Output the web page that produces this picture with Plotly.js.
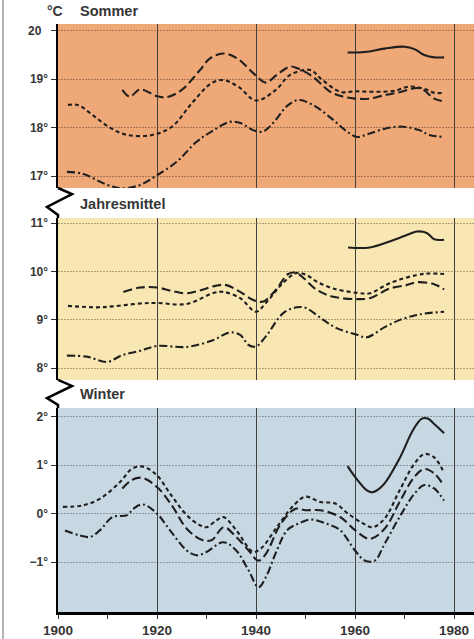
<!DOCTYPE html>
<html>
<head>
<meta charset="utf-8">
<script src="https://cdn.plot.ly/plotly-3.0.1.min.js"></script>
<style>html,body{margin:0;padding:0;background:#fff;}#chart{width:474px;height:639px;}</style>
</head>
<body>
<div id="chart"></div>
<script>
// ---------- Sommer ----------
const somSolidX = [1958.5,1962,1966,1970,1972,1974,1976,1978];
const somSolidY = [19.55,19.56,19.63,19.67,19.62,19.50,19.45,19.45];
const somLongX = [1913,1914.5,1916.6,1920,1922,1925,1928.7,1930.7,1933.4,1936.2,1939.5,1942,1944.2,1946.9,1948.5,1951.5,1955,1957.6,1960,1963,1966,1969,1972.5,1973.8,1976,1978];
const somLongY = [18.78,18.64,18.79,18.65,18.63,18.78,19.19,19.43,19.53,19.43,19.12,18.93,19.09,19.26,19.22,19.05,18.74,18.64,18.60,18.60,18.67,18.73,18.82,18.78,18.60,18.54];
const somShortX = [1902,1904,1907,1910.5,1914,1919,1923,1927,1931,1933.5,1936.5,1940,1944,1946.9,1951,1953,1957,1960,1964,1968,1971,1974,1976,1978];
const somShortY = [18.47,18.47,18.26,18.00,17.85,17.85,18.02,18.50,18.92,18.98,18.84,18.56,18.78,19.09,19.19,19.02,18.74,18.75,18.74,18.76,18.85,18.80,18.72,18.72];
const somDotX = [1901.8,1905,1910,1913,1916.6,1920,1924,1928,1931,1934.7,1937,1939.4,1941.4,1943.4,1946.3,1948.5,1951.5,1955.6,1958.4,1960.4,1963,1966.4,1969.7,1973,1975,1978];
const somDotY = [17.09,17.05,16.82,16.75,16.82,17.02,17.30,17.71,17.92,18.12,18.09,17.95,17.92,18.09,18.45,18.57,18.47,18.16,17.92,17.81,17.88,17.99,18.02,17.95,17.85,17.81];

// ---------- Jahresmittel ----------
const jahSolidX = [1958.6,1963,1967.7,1971,1972.5,1974.5,1976,1978];
const jahSolidY = [10.50,10.50,10.65,10.78,10.83,10.80,10.67,10.66];
const jahLongX = [1913.2,1916.6,1920,1923,1926,1929,1932,1934,1936.8,1939.5,1941.5,1944,1946.5,1948.2,1952.3,1955.6,1960.4,1963,1967,1970.4,1972.5,1976,1978];
const jahLongY = [9.58,9.67,9.67,9.60,9.55,9.62,9.71,9.72,9.58,9.41,9.38,9.62,9.95,9.97,9.62,9.48,9.43,9.45,9.65,9.72,9.78,9.74,9.63];
const jahShortX = [1902,1907.8,1911,1916.6,1920,1926,1931.5,1933.4,1936.8,1940,1942,1945.5,1948.2,1950.2,1952.3,1955.6,1960.4,1963,1967,1972.5,1975,1978];
const jahShortY = [9.29,9.26,9.28,9.34,9.35,9.33,9.56,9.58,9.45,9.17,9.35,9.77,9.97,9.93,9.79,9.65,9.56,9.55,9.76,9.93,9.96,9.95];
const jahDotX = [1901.8,1905.8,1909.9,1913,1916.6,1920,1926,1931.3,1934.7,1936.8,1938.5,1940,1942,1945.5,1948.2,1950,1953.6,1956.3,1960.4,1962.4,1966,1969.1,1972,1974,1978];
const jahDotY = [8.26,8.24,8.13,8.27,8.36,8.46,8.44,8.58,8.74,8.69,8.48,8.45,8.66,9.14,9.26,9.25,9.00,8.83,8.69,8.64,8.85,9.00,9.09,9.13,9.17];

// ---------- Winter ----------
const winSolidX = [1958.5,1960,1962.4,1963.5,1965.7,1969,1971.7,1973.5,1974.8,1975.8,1978];
const winSolidY = [0.98,0.76,0.48,0.44,0.59,1.14,1.72,1.96,1.96,1.87,1.66];
const winLongX = [1913,1915,1917,1920,1923,1926,1929,1931,1933.5,1936,1938.5,1940.5,1942,1945,1948,1950,1953,1957,1960,1963,1966,1969,1972,1974,1976,1978];
const winLongY = [0.52,0.70,0.74,0.55,0.17,-0.31,-0.54,-0.55,-0.28,-0.48,-0.76,-0.97,-0.83,-0.21,0.10,0.07,0.07,-0.07,-0.34,-0.52,-0.31,0.24,0.76,0.92,0.83,0.57];
const winShortX = [1901,1905,1908.5,1912.5,1915,1917.2,1920,1922.6,1926,1928.7,1930,1932,1933.4,1936,1939.4,1941,1944.2,1947.6,1950,1953,1956,1958.6,1961.6,1963.6,1966,1969,1972,1974,1976,1978];
const winShortY = [0.14,0.17,0.31,0.65,0.93,0.97,0.79,0.42,-0.03,-0.24,-0.28,-0.14,-0.07,-0.34,-0.79,-0.72,-0.28,0.17,0.35,0.24,0.21,0.00,-0.20,-0.28,-0.10,0.48,1.03,1.23,1.16,0.84];
const winDotX = [1901.4,1904.4,1906.5,1908.5,1911,1914,1915.2,1917.2,1920,1922.6,1926,1928,1930,1933.4,1936,1938.5,1940.5,1942,1944.2,1946.3,1948.5,1951,1954.3,1957,1960,1962,1964,1966,1969,1972,1974,1976,1978];
const winDotY = [-0.35,-0.45,-0.48,-0.34,-0.07,-0.03,0.10,0.19,0.00,-0.34,-0.76,-0.86,-0.79,-0.59,-0.76,-1.17,-1.52,-1.31,-0.76,-0.34,-0.21,-0.12,-0.21,-0.34,-0.76,-0.97,-0.97,-0.62,-0.07,0.41,0.59,0.52,0.27];

// ---------- tick labels ----------
const somTickVals = [17,18,19,20];
const somTickText = ['17°','18°','19°','20\u2007'];
const jahTickVals = [8,9,10,11];
const jahTickText = ['8°','9°','10°','11°'];
const winTickVals = [-1,0,1,2];
const winTickText = ['\u22121°','0°','1°','2°'];
const panelNames = ['Sommer','Jahresmittel','Winter'];

const INK = '#1f1f1f';
const TXT = '#363636';
const FONT = 'Liberation Sans, Arial, sans-serif';
const dashLong = '9px,4px';
const dashShort = '4px,3px';
const dashDot = '8px,3px,2px,3px';

function tr(x, y, ya, dash) {
  return {x: x, y: y, yaxis: ya, xaxis: 'x', type: 'scatter', mode: 'lines',
    line: {color: INK, width: 2.1, dash: dash, shape: 'spline', smoothing: 1},
    hoverinfo: 'skip', showlegend: false};
}

const data = [
  tr(somSolidX, somSolidY, 'y', 'solid'),
  tr(somLongX, somLongY, 'y', dashLong),
  tr(somShortX, somShortY, 'y', dashShort),
  tr(somDotX, somDotY, 'y', dashDot),
  tr(jahSolidX, jahSolidY, 'y2', 'solid'),
  tr(jahLongX, jahLongY, 'y2', dashLong),
  tr(jahShortX, jahShortY, 'y2', dashShort),
  tr(jahDotX, jahDotY, 'y2', dashDot),
  tr(winSolidX, winSolidY, 'y3', 'solid'),
  tr(winLongX, winLongY, 'y3', dashLong),
  tr(winShortX, winShortY, 'y3', dashShort),
  tr(winDotX, winDotY, 'y3', dashDot)
];

const tickFont = {family: FONT, size: 12, color: TXT, weight: 'bold'};
function yax(domain, range, vals, text, gridcolor) {
  return {domain: domain, range: range, anchor: 'x', tickmode: 'array', tickvals: vals, ticktext: text,
    showline: true, linewidth: 2.5, linecolor: '#000', ticks: 'outside', ticklen: 5, tickwidth: 1,
    tickcolor: '#333', tickfont: tickFont, showgrid: true, gridcolor: gridcolor, gridwidth: 1,
    griddash: '1.5px,1.5px', zeroline: false, fixedrange: true};
}

function title(x, y, text, size) {
  return {xref: 'paper', yref: 'paper', x: x, y: y, xanchor: 'left', yanchor: 'middle', showarrow: false,
    text: text, font: {family: FONT, size: size, color: TXT, weight: 'bold'}};
}

const layout = {
  width: 474, height: 639,
  margin: {l: 58, r: 0, t: 24, b: 27},
  paper_bgcolor: '#ffffff', plot_bgcolor: 'rgba(0,0,0,0)',
  showlegend: false,
  xaxis: {domain: [0, 1], range: [1900, 1984.04], anchor: 'y3', tick0: 1900, dtick: 20,
    showline: true, linewidth: 2.5, linecolor: '#000', ticks: 'outside', ticklen: 4, tickcolor: '#333',
    minor: {dtick: 10, tick0: 1900, ticks: 'outside', ticklen: 4, tickcolor: '#333', showgrid: false},
    tickfont: {family: FONT, size: 13.5, color: TXT, weight: 'bold'},
    showgrid: true, gridcolor: '#404040', gridwidth: 1, zeroline: false, fixedrange: true},
  yaxis: yax([0.7211, 1], [16.757, 20.138], somTickVals, somTickText, 'rgba(120,80,60,0.6)'),
  yaxis2: yax([0.3946, 0.6701], [7.756, 11.11], jahTickVals, jahTickText, 'rgba(120,100,60,0.55)'),
  yaxis3: yax([0, 0.3469], [-2.03, 2.18], winTickVals, winTickText, 'rgba(90,100,110,0.55)'),
  shapes: [
    {type: 'rect', xref: 'paper', yref: 'y domain', x0: 0, x1: 1, y0: 0, y1: 1, fillcolor: '#efa877', line: {width: 0}, layer: 'below'},
    {type: 'rect', xref: 'paper', yref: 'y2 domain', x0: 0, x1: 1, y0: 0, y1: 1, fillcolor: '#f9e7b3', line: {width: 0}, layer: 'below'},
    {type: 'rect', xref: 'paper', yref: 'y3 domain', x0: 0, x1: 1, y0: 0, y1: 1, fillcolor: '#c7d8e3', line: {width: 0}, layer: 'below'},
    {type: 'path', xref: 'paper', yref: 'paper', path: 'M 0 0.7211 L 0.03365 0.7109 L -0.02644 0.6888 L 0 0.6752 L 0 0.6701', line: {color: '#000', width: 2.5}},
    {type: 'path', xref: 'paper', yref: 'paper', path: 'M 0 0.3946 L 0.03365 0.3844 L -0.02644 0.3639 L 0 0.3520 L 0 0.3469', line: {color: '#000', width: 2.5}},
    {type: 'line', xref: 'paper', yref: 'paper', x0: -0.1322, x1: -0.1322, y0: -0.05, y1: 1.05, line: {color: '#9a9a9a', width: 1.5}}
  ],
  annotations: [
    title(-0.031, 1.022, '°C', 14),
    title(0.048, 1.022, panelNames[0], 14.5),
    title(0.048, 0.694, panelNames[1], 14.5),
    title(0.048, 0.371, panelNames[2], 14.5)
  ]
};

Plotly.newPlot('chart', data, layout, {staticPlot: true, displayModeBar: false});
</script>
</body>
</html>
